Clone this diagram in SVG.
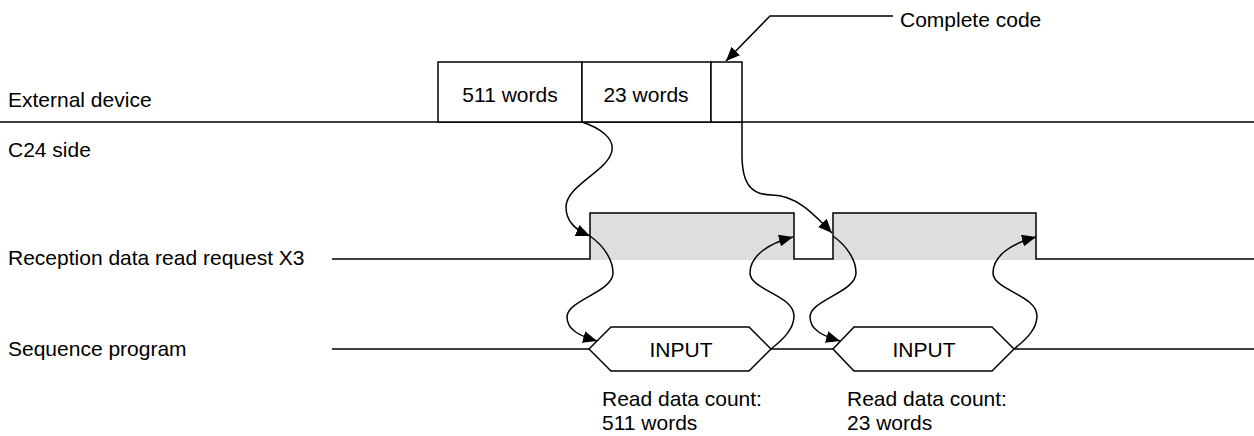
<svg xmlns="http://www.w3.org/2000/svg" width="1254" height="436" viewBox="0 0 1254 436">
<style>
text{font-family:"Liberation Sans",Arial,sans-serif;font-size:21px;fill:#000}
.ln{fill:none;stroke:#000;stroke-width:1.5}
.cv{fill:none;stroke:#000;stroke-width:1.5}
.box{fill:#fff;stroke:#000;stroke-width:1.5}
.hi{fill:#dedede;stroke:none}
</style>
<defs>
<marker id="ah" markerUnits="userSpaceOnUse" markerWidth="14" markerHeight="12" refX="14" refY="6" orient="auto">
<path d="M0,0 L14,6 L0,12 z" fill="#000"/>
</marker>
</defs>
<g id="labels">
<text x="8" y="107">External device</text>
<text x="8" y="157">C24 side</text>
<text x="8" y="265">Reception data read request X3</text>
<text x="8" y="356">Sequence program</text>
</g>
<g id="external-line">
<line class="ln" x1="0" y1="122" x2="1254" y2="122"/>
</g>
<g id="frame">
<rect class="box" x="438" y="62" width="144" height="60"/>
<text x="510" y="102" text-anchor="middle">511 words</text>
<rect class="box" x="582" y="62" width="129" height="60"/>
<text x="646" y="102" text-anchor="middle">23 words</text>
<rect class="box" x="711" y="62" width="31" height="60"/>
</g>
<g id="complete-code">
<polyline class="ln" points="893,16 770,16 726,61" marker-end="url(#ah)"/>
<text x="900" y="27">Complete code</text>
</g>
<g id="x3-signal">
<rect class="hi" x="590" y="213" width="204" height="47"/>
<rect class="hi" x="833" y="213" width="203" height="47"/>
<polyline class="ln" points="332,259 590,259 590,213 794,213 794,259 833,259 833,213 1036,213 1036,259 1254,259"/>
</g>
<g id="sequence">
<line class="ln" x1="332" y1="349" x2="589" y2="349"/>
<line class="ln" x1="771" y1="349" x2="833" y2="349"/>
<line class="ln" x1="1014" y1="349" x2="1254" y2="349"/>
</g>
<g id="input1">
<polygon class="box" points="589,349 611,327 749,327 771,349 749,371 611,371"/>
<text x="681" y="357" text-anchor="middle">INPUT</text>
<text x="602" y="406">Read data count:</text>
<text x="602" y="430">511 words</text>
</g>
<g id="input2">
<polygon class="box" points="833,349 854,327 992,327 1014,349 992,371 854,371"/>
<text x="924" y="357" text-anchor="middle">INPUT</text>
<text x="847" y="406">Read data count:</text>
<text x="847" y="430">23 words</text>
</g>
<g id="connectors">
<path class="cv" d="M582,122 C600,128 614,138 612,150 C610,170 566,185 566,207 C566,222 576,230 590,236" marker-end="url(#ah)"/>
<path class="cv" d="M590,236 C604,246 613,260 613,273 C613,292 567,300 567,317 C567,330 580,336 597,341" marker-end="url(#ah)"/>
<path class="cv" d="M771,349 C785,338 794,328 794,316 C794,295 750,290 750,273 C750,255 770,243 793,237" marker-end="url(#ah)"/>
<path class="cv" d="M742,122 L742,155 C742,185 752,195 772,195 C795,195 812,212 832,233" marker-end="url(#ah)"/>
<path class="cv" d="M833,236 C847,246 856,260 856,273 C856,292 810,300 810,317 C810,330 823,336 840,341" marker-end="url(#ah)"/>
<path class="cv" d="M1014,349 C1028,338 1037,328 1037,316 C1037,295 993,290 993,273 C993,255 1013,243 1036,237" marker-end="url(#ah)"/>
</g>
</svg>
